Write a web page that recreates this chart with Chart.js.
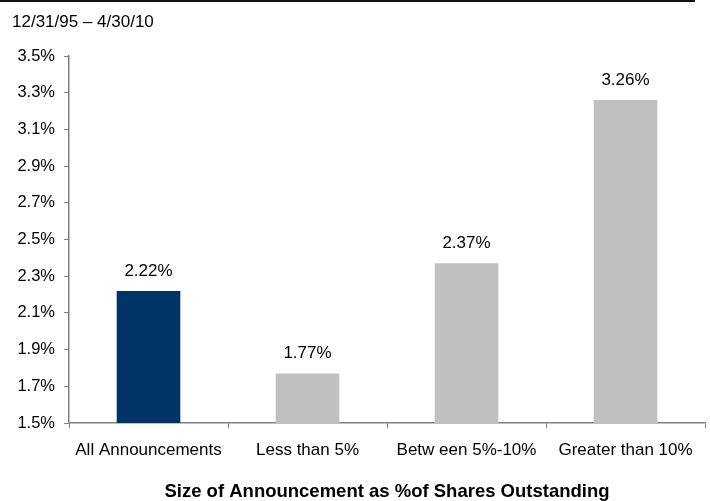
<!DOCTYPE html>
<html>
<head>
<meta charset="utf-8">
<script src="https://cdn.jsdelivr.net/npm/chart.js@4"></script>
<style>
  html, body { margin: 0; padding: 0; background: #fff; }
  #wrap { width: 710px; height: 501px; position: relative; }
</style>
</head>
<body>
<div id="wrap"><canvas id="c" width="710" height="501"></canvas></div>
<script>
const categories = ["All Announcements", "Less than 5%", "Betw een 5%-10%", "Greater than 10%"];
const values = [2.22, 1.77, 2.37, 3.26];
const barColors = ["#003366", "#C0C0C0", "#C0C0C0", "#C0C0C0"];
const yTicks = [1.5, 1.7, 1.9, 2.1, 2.3, 2.5, 2.7, 2.9, 3.1, 3.3, 3.5];
const dateRange = "12/31/95 \u2013 4/30/10";
const axisTitle = "Size of Announcement as %of Shares Outstanding";

const FONT = "'Liberation Sans', Arial, sans-serif";

const decor = {
  id: 'decor',
  afterDraw(chart) {
    const ctx = chart.ctx;
    ctx.save();
    ctx.fillStyle = '#111';
    ctx.fillRect(0, 0, 695, 2);
    ctx.font = '17px ' + FONT;
    ctx.fillStyle = '#000';
    ctx.textBaseline = 'alphabetic';
    ctx.textAlign = 'left';
    ctx.fillText(dateRange, 12, 27);
    const meta = chart.getDatasetMeta(0);
    ctx.textAlign = 'center';
    meta.data.forEach((bar, i) => {
      ctx.fillText(values[i].toFixed(2) + '%', bar.x, bar.y - 15);
    });
    ctx.restore();
  }
};

new Chart(document.getElementById('c'), {
  type: 'bar',
  data: {
    labels: categories,
    datasets: [{
      data: values,
      backgroundColor: barColors,
      barPercentage: 0.4,
      categoryPercentage: 1.0,
      borderWidth: 0
    }]
  },
  options: {
    responsive: false,
    animation: false,
    devicePixelRatio: 1,
    layout: { padding: { top: 56, right: 5, left: 0, bottom: 0 } },
    plugins: { legend: { display: false }, tooltip: { enabled: false } },
    scales: {
      y: {
        min: 1.5, max: 3.5,
        afterBuildTicks(scale) { scale.ticks = yTicks.map(v => ({ value: v })); },
        afterFit(scale) { scale.width = 69; },
        ticks: {
          color: '#000',
          font: { family: FONT, size: 16.5 },
          padding: 9,
          callback: (v) => Number(v).toFixed(1) + '%'
        },
        grid: { display: true, drawOnChartArea: false, drawTicks: true, tickLength: 5, color: '#808080', lineWidth: 1 },
        border: { display: true, color: '#808080', width: 1.5 }
      },
      x: {
        afterFit(scale) { scale.height = 78; },
        ticks: {
          color: '#000',
          font: { family: FONT, size: 17 },
          padding: 12,
          maxRotation: 0,
          autoSkip: false
        },
        grid: { display: true, offset: true, drawOnChartArea: false, drawTicks: true, tickLength: 5, color: '#808080', lineWidth: 1 },
        border: { display: true, color: '#808080', width: 1.5 },
        title: {
          display: true,
          text: axisTitle,
          color: '#000',
          font: { family: FONT, size: 18.5, weight: 'bold' },
          padding: { top: 0, bottom: -2 }
        }
      }
    }
  },
  plugins: [decor]
});
</script>
</body>
</html>
